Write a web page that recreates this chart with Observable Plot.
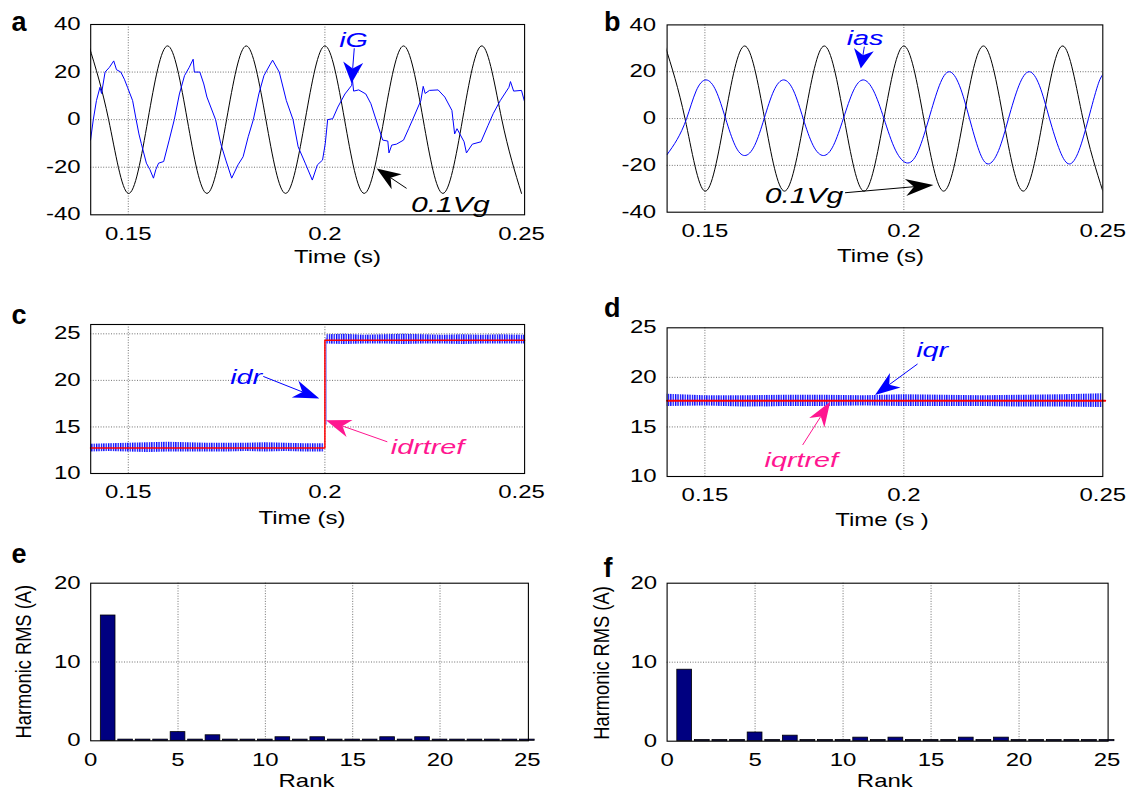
<!DOCTYPE html>
<html>
<head>
<meta charset="utf-8">
<script src="https://cdn.jsdelivr.net/npm/d3@7"></script>
<script src="https://cdn.jsdelivr.net/npm/@observablehq/plot@0.6"></script>
<style>
  html, body { margin: 0; padding: 0; background: #fff; }
  #fig { position: relative; width: 1134px; height: 797px; overflow: hidden; background: #fff; }
</style>
</head>
<body>
<div id="fig"></div>
<script>
// ---------------- DATA ----------------
// panel a/b : 0.1Vg (grid voltage /10), quarter-period readings
const vgT = [0.140,0.145,0.150,0.155,0.160,0.165,0.170,0.175,0.180,0.185,0.190,0.195,0.200,0.205,0.210,0.215,0.220,0.225,0.230,0.235,0.240,0.245,0.250];
const vgV = [31,0,-31,0,31,0,-31,0,31,0,-31,0,31,0,-31,0,31,0,-31,0,31,0,-31];

// panel a : grid current iG
const iGT = [0.1404,0.1411,0.1419,0.1428,0.1432,0.1441,0.1452,0.1463,0.1470,0.1481,0.1490,0.1498,0.1511,0.1520,0.1527,0.1533,0.1546,0.1555,0.1564,0.1570,0.1577,0.1590,0.1604,0.1617,0.1630,0.1643,0.1655,0.1665,0.1668,0.1682,0.1692,0.1700,0.1722,0.1735,0.1748,0.1763,0.1779,0.1792,0.1805,0.1818,0.1832,0.1845,0.1860,0.1867,0.1884,0.1902,0.1919,0.1932,0.1950,0.1968,0.1981,0.1994,0.2001,0.2007,0.2020,0.2033,0.2051,0.2068,0.2070,0.2073,0.2086,0.2104,0.2117,0.2130,0.2147,0.2160,0.2163,0.2170,0.2182,0.2200,0.2213,0.2226,0.2244,0.2250,0.2255,0.2266,0.2288,0.2305,0.2323,0.2330,0.2336,0.2354,0.2360,0.2375,0.2397,0.2415,0.2428,0.2446,0.2468,0.2472,0.2480,0.2500,0.2508];
const iGV = [-8.6,0,8,13.6,11,20,22,24.7,21,20,17,13.6,8,0,-6,-10,-18.3,-21,-24.6,-21,-18.3,-17.6,-8.6,0,10.8,18.5,22,25.4,20,20,15,9.5,0,-10,-17,-24.6,-19,-15.6,-7.2,0,10.8,18.5,23,25,20,8,0,-11.4,-18.3,-25.4,-19,-17,-10,0,0.4,5.3,10.8,14.4,17,12,12.5,10.8,6.7,0,-8.6,-9,-14,-10.7,-10.3,-8.6,-3.8,1.1,8,14,11,12.3,12.5,9.5,3.9,-6,-3.8,-9.3,-14,-10.3,-9.3,-2.4,2.5,8,13.6,16,12,12.3,7.4];

// panel b : stator current ias
const iasT = [0.1405,0.1430,0.1454,0.1478,0.1503,0.1528,0.1552,0.1576,0.1600,0.1625,0.1649,0.1673,0.1698,0.1723,0.1747,0.1772,0.1798,0.1823,0.1848,0.1873,0.1898,0.1924,0.1950,0.1979,0.2010,0.2037,0.2063,0.2089,0.2114,0.2140,0.2165,0.2189,0.2212,0.2238,0.2263,0.2289,0.2315,0.2341,0.2366,0.2392,0.2416,0.2440,0.2464,0.2487,0.2500];
const iasV = [-15.4,-9,0,11.8,16.5,11.8,0,-11.5,-15.8,-11.5,0,11.8,16.5,11.8,0,-11.5,-15.8,-11.5,0,11.8,16.5,11.8,0,-13.5,-19,-13.5,0,14,20,14,0,-13.7,-19.4,-13.7,0,14,20,14,0,-13.7,-19.4,-13.7,0,14,18.8];

// panel c : idr (noise envelope) and reference idrtref
const idrT1  = [0.1404,0.145,0.150,0.155,0.160,0.165,0.170,0.175,0.180,0.185,0.190,0.195,0.1999];
const idrLo1 = [12.30,12.35,12.30,12.25,12.30,12.30,12.30,12.30,12.35,12.30,12.35,12.30,12.30];
const idrHi1 = [13.15,13.20,13.25,13.30,13.35,13.30,13.25,13.25,13.25,13.30,13.25,13.20,13.20];
const idrT2  = [0.2005,0.205,0.210,0.215,0.220,0.225,0.230,0.235,0.240,0.245,0.2508];
const idrLo2 = [23.90,23.85,23.90,23.90,23.85,23.90,23.90,23.85,23.90,23.90,23.90];
const idrHi2 = [24.90,24.95,24.85,24.90,24.95,24.90,24.85,24.90,24.85,24.90,24.85];
const idrJumpT = [0.2003,0.2003];
const idrJumpV = [15.3,24.5];
const idrRefT = [0.1404,0.2000,0.2000,0.2508];
const idrRefV = [12.75,12.75,24.3,24.3];

// panel d : iqr (noise envelope) and reference iqrtref
const iqrT  = [0.1405,0.150,0.160,0.170,0.180,0.190,0.200,0.210,0.220,0.230,0.240,0.250];
const iqrLo = [17.05,17.10,17.00,17.05,17.05,17.10,17.05,17.05,17.05,17.00,17.00,16.95];
const iqrHi = [18.30,18.15,18.15,18.20,18.20,18.15,18.25,18.20,18.15,18.20,18.25,18.35];
const iqrRefT = [0.1405,0.2506];
const iqrRefV = [17.65,17.65];

// panels e/f : harmonic spectra
const ranks = [1,2,3,4,5,6,7,8,9,10,11,12,13,14,15,16,17,18,19,20,21,22,23,24,25];
const rmsE = [15.9,0.15,0.15,0.15,1.1,0.15,0.7,0.15,0.15,0.15,0.45,0.15,0.45,0.15,0.15,0.15,0.45,0.15,0.45,0.15,0.15,0.15,0.15,0.15,0.15];
const rmsF = [9.05,0.15,0.15,0.15,1.1,0.15,0.7,0.15,0.15,0.15,0.45,0.15,0.45,0.15,0.15,0.15,0.45,0.15,0.45,0.15,0.15,0.15,0.15,0.15,0.15];

// tick values
const timeTicks = [0.15,0.2,0.25];
const abTicks = [-40,-20,0,20,40];
const cdTicks = [10,15,20,25];
const rankTicks = [0,5,10,15,20,25];
const rmsTicks = [0,10,20];

// annotations (data coordinates)
const annA = [
  {label:"iG",    tx:0.2073, ty:33.3,  x1:0.2076, y1:29.8,  x2:0.2069, y2:15.1},
  {label:"0.1Vg", tx:0.2319, ty:-35.7, x1:0.2209, y1:-29.1, x2:0.2133, y2:-20.7}
];
const annB = [
  {label:"ias",   tx:0.19025, ty:34.1,  x1:0.1902,  y1:30.5,  x2:0.1893,  y2:21.2},
  {label:"0.1Vg", tx:0.17491, ty:-32.9, x1:0.18534, y1:-31.9, x2:0.20757, y2:-28.6}
];
const annC = [
  {label:"idr",     tx:0.17998, ty:20.3, x1:0.18446, y1:20.37, x2:0.1987, y2:17.99},
  {label:"idrtref", tx:0.2261,  ty:12.8, x1:0.2160,  y1:13.35, x2:0.2004, y2:15.67}
];
const annD = [
  {label:"iqr",     tx:0.20711, ty:22.74, x1:0.20357, y1:21.3,  x2:0.19289, y2:18.17},
  {label:"iqrtref", tx:0.17423, ty:11.6,  x1:0.17469, y1:13.13, x2:0.18162, y2:17.5}
];

// ---------------- HELPERS ----------------
const BLUE = "#0000ff", PINK = "#ff1690", RED = "#ff0000", NAVY = "#000080";
const FONT = "'Liberation Sans', Arial, Helvetica, sans-serif";
const SX = 1.37;   // horizontal stretch of the original figure's lettering
const NS = "http://www.w3.org/2000/svg";
const fig = document.getElementById("fig");
const zip = (T, V) => T.map((t, i) => ({t, v: V[i]}));
const band = (T, L, H) => T.map((t, i) => ({t, lo: L[i], hi: H[i]}));
const fmt = d => String(d);

// stretch every text horizontally about its own anchor (keeps y / dy untouched)
function stretch(svg) {
  svg.querySelectorAll("text").forEach(t => {
    const x = parseFloat(t.getAttribute("x")) || 0;
    const tr = t.getAttribute("transform") || "";
    t.setAttribute("transform", `${tr} translate(${x},0) scale(${SX},1) translate(${-x},0)`);
  });
}

// vertical hatch pattern imitating the dense ripple of the measured currents
function hatchDefs(id) {
  return () => {
    const defs = document.createElementNS(NS, "defs");
    const pat = document.createElementNS(NS, "pattern");
    pat.setAttribute("id", id); pat.setAttribute("patternUnits", "userSpaceOnUse");
    pat.setAttribute("width", 2.4); pat.setAttribute("height", 20);
    const r = document.createElementNS(NS, "rect");
    r.setAttribute("x", 0); r.setAttribute("y", 0); r.setAttribute("width", 1.3); r.setAttribute("height", 20);
    r.setAttribute("fill", BLUE);
    pat.appendChild(r); defs.appendChild(pat);
    return defs;
  };
}

function arrowMark(a, color, hl, hw) {
  return (index, scales) => {
    const g = document.createElementNS(NS, "g");
    const x1 = scales.x(a.x1), y1 = scales.y(a.y1), x2 = scales.x(a.x2), y2 = scales.y(a.y2);
    const L = Math.hypot(x2 - x1, y2 - y1), ux = (x2 - x1) / L, uy = (y2 - y1) / L, nx = -uy, ny = ux;
    const bx = x2 - ux * hl, by = y2 - uy * hl, kx = x2 - ux * hl * 0.7, ky = y2 - uy * hl * 0.7;
    const ln = document.createElementNS(NS, "line");
    ln.setAttribute("x1", x1); ln.setAttribute("y1", y1); ln.setAttribute("x2", kx); ln.setAttribute("y2", ky);
    ln.setAttribute("stroke", color); ln.setAttribute("stroke-width", 1);
    const pg = document.createElementNS(NS, "polygon");
    pg.setAttribute("points", `${x2},${y2} ${bx + nx * hw},${by + ny * hw} ${kx},${ky} ${bx - nx * hw},${by - ny * hw}`);
    pg.setAttribute("fill", color);
    g.appendChild(ln); g.appendChild(pg);
    return g;
  };
}

function annot(a, color, size, hl, hw) {
  return [
    arrowMark(a, color, hl, hw),
    Plot.text([a], {x: "tx", y: "ty", text: "label", fill: color, fontStyle: "italic", fontSize: size})
  ];
}

function panel(p) {
  const [bl, bt, bw, bh] = p.box;
  const [fl, fr, ft, fb] = p.frame;
  const grid = {stroke: "#444", strokeOpacity: 0.85, strokeWidth: 0.9, strokeDasharray: "1,1.6"};
  const svg = Plot.plot({
    width: bw, height: bh,
    marginLeft: fl - bl, marginRight: bl + bw - fr, marginTop: ft - bt, marginBottom: bt + bh - fb,
    x: {type: "linear", domain: p.xDomain},
    y: {type: "linear", domain: p.yDomain},
    style: {fontFamily: FONT, fontSize: "17.5px", color: "#000", background: "none", overflow: "visible"},
    marks: [
      Plot.gridX(p.xGrid, grid),
      Plot.gridY(p.yGrid, grid),
      ...p.marks,
      Plot.frame({stroke: "#000", strokeWidth: 1.1}),
      Plot.axisX(p.xTicks, {tickSize: 0, tickPadding: 12.5, tickFormat: fmt, label: null}),
      Plot.axisY(p.yTicks, {tickSize: 0, tickPadding: p.yPad, tickFormat: fmt, label: null}),
      ...(p.over || [])
    ]
  });
  stretch(svg);
  const div = document.createElement("div");
  div.style.cssText = `position:absolute;left:${bl}px;top:${bt}px;width:${bw}px;height:${bh}px;`;
  div.appendChild(svg);
  fig.appendChild(div);
}

// ---------------- PANELS ----------------
const abDomainA = [0.14044, 0.25079];
const abDomainB = [0.1405, 0.25];

// a
panel({
  box: [0, 0, 567, 285], frame: [90.2, 524.1, 24, 214.3],
  xDomain: abDomainA, yDomain: [-40, 40],
  xTicks: timeTicks, xGrid: [0.15, 0.2], yTicks: abTicks, yGrid: [-20, 0, 20], yPad: 10,
  marks: [
    Plot.line(zip(vgT, vgV), {x: "t", y: "v", stroke: "#000", strokeWidth: 1, curve: "natural", clip: true}),
    Plot.line(zip(iGT, iGV), {x: "t", y: "v", stroke: BLUE, strokeWidth: 1, clip: true})
  ],
  over: [...annot(annA[0], BLUE, 21, 21, 10), ...annot(annA[1], "#000", 22, 24, 9)]
});

// b
panel({
  box: [567, 0, 567, 285], frame: [666.6, 1102.3, 24.4, 211.7],
  xDomain: abDomainB, yDomain: [-40, 40],
  xTicks: timeTicks, xGrid: [0.15, 0.2], yTicks: abTicks, yGrid: [-20, 0, 20], yPad: 11,
  marks: [
    Plot.line(zip(vgT, vgV), {x: "t", y: "v", stroke: "#000", strokeWidth: 1, curve: "natural", clip: true}),
    Plot.line(zip(iasT, iasV), {x: "t", y: "v", stroke: BLUE, strokeWidth: 1, curve: "natural", clip: true})
  ],
  over: [...annot(annB[0], BLUE, 21, 19, 10), ...annot(annB[1], "#000", 22, 28, 8.5)]
});

// c
panel({
  box: [0, 285, 567, 260], frame: [90.2, 524.1, 324, 473],
  xDomain: abDomainA, yDomain: [10, 26],
  xTicks: timeTicks, xGrid: [0.15, 0.2], yTicks: cdTicks, yGrid: [15, 20, 25], yPad: 10,
  marks: [
    hatchDefs("hatchC"),
    Plot.areaY(band(idrT1, idrLo1, idrHi1), {x: "t", y1: "lo", y2: "hi", fill: "url(#hatchC)"}),
    Plot.areaY(band(idrT2, idrLo2, idrHi2), {x: "t", y1: "lo", y2: "hi", fill: "url(#hatchC)"}),
    Plot.line(zip(idrJumpT, idrJumpV), {x: "t", y: "v", stroke: BLUE, strokeOpacity: 0.5, strokeWidth: 1.2}),
    Plot.line(zip(idrRefT, idrRefV), {x: "t", y: "v", stroke: RED, strokeWidth: 1.5})
  ],
  over: [...annot(annC[0], BLUE, 21, 26, 9), ...annot(annC[1], PINK, 21, 25, 9)]
});

// d
panel({
  box: [567, 285, 567, 260], frame: [666.6, 1102.3, 327.3, 476],
  xDomain: abDomainB, yDomain: [10, 25],
  xTicks: timeTicks, xGrid: [0.15, 0.2], yTicks: cdTicks, yGrid: [15, 20], yPad: 10.5,
  marks: [
    hatchDefs("hatchD"),
    Plot.areaY(band(iqrT, iqrLo, iqrHi), {x: "t", y1: "lo", y2: "hi", fill: "url(#hatchD)"}),
    Plot.line(zip(iqrRefT, iqrRefV), {x: "t", y: "v", stroke: RED, strokeWidth: 2})
  ],
  over: [...annot(annD[0], BLUE, 21, 25, 9), ...annot(annD[1], PINK, 21, 25, 9)]
});

// e
panel({
  box: [0, 545, 567, 252], frame: [90.2, 527.9, 582.7, 740.3],
  xDomain: [0, 25.06], yDomain: [0, 20],
  xTicks: rankTicks, xGrid: [5, 10, 15, 20], yTicks: rmsTicks, yGrid: [10], yPad: 10,
  marks: [
    Plot.rect(ranks.map((r, i) => ({r, v: rmsE[i]})), {x1: d => d.r - 0.42, x2: d => d.r + 0.42, y1: 0, y2: "v", fill: NAVY, stroke: "#000", strokeWidth: 0.8})
  ]
});

// f
panel({
  box: [567, 545, 567, 252], frame: [666.6, 1107.6, 582.7, 740.7],
  xDomain: [0, 25.06], yDomain: [0, 20],
  xTicks: rankTicks, xGrid: [5, 10, 15, 20], yTicks: rmsTicks, yGrid: [10], yPad: 10,
  marks: [
    Plot.rect(ranks.map((r, i) => ({r, v: rmsF[i]})), {x1: d => d.r - 0.42, x2: d => d.r + 0.42, y1: 0, y2: "v", fill: NAVY, stroke: "#000", strokeWidth: 0.8})
  ]
});

// ---------------- OVERLAY TEXT (panel letters, axis titles) ----------------
const ov = d3.create("svg").attr("width", 1134).attr("height", 797)
  .style("position", "absolute").style("left", "0px").style("top", "0px")
  .style("font-family", FONT).style("pointer-events", "none");

const letters = [["a", 19, 30.7], ["b", 612.3, 30.7], ["c", 19, 324], ["d", 612.3, 316.7], ["e", 19, 563.3], ["f", 608, 576.7]];
for (const [s, x, y] of letters) {
  ov.append("text").attr("x", x).attr("y", y).attr("text-anchor", "middle")
    .attr("font-size", 27).attr("font-weight", "bold").text(s);
}
const titles = [["Time (s)", 337.5, 263.3], ["Time (s)", 880.4, 261.7], ["Time (s)", 302, 524], ["Time (s )", 882, 526], ["Rank", 306.5, 787], ["Rank", 884.8, 787]];
for (const [s, x, y] of titles) {
  ov.append("text").attr("text-anchor", "middle").attr("font-size", 17.5)
    .attr("transform", `translate(${x},${y}) scale(${SX},1)`).text(s);
}
const ylabels = [[31, 661.7], [608.5, 663]];
for (const [x, y] of ylabels) {
  ov.append("text").attr("text-anchor", "middle").attr("font-size", 18.3)
    .attr("transform", `translate(${x},${y}) rotate(-90) scale(1,1.2)`).text("Harmonic RMS (A)");
}
fig.appendChild(ov.node());
</script>
</body>
</html>
